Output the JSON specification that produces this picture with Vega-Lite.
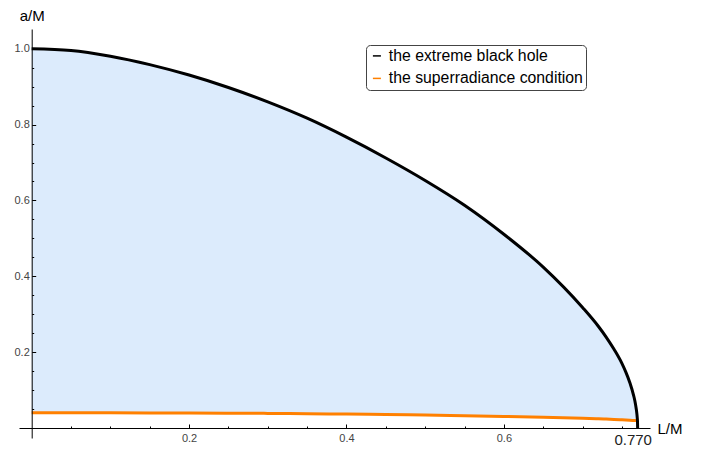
{
  "$schema": "https://vega.github.io/schema/vega-lite/v6.json",
  "width": 631,
  "height": 409,
  "autosize": "none",
  "padding": {"left": 19, "top": 29, "right": 57, "bottom": 12},
  "background": "white",
  "view": {"stroke": null},
  "config": {"font": "Liberation Sans"},
  "data": {
    "values": [
      {"L": 0.0, "extreme": 1.0, "superradiance": 0.0400},
      {"L": 0.05, "extreme": 0.9955, "superradiance": 0.0400},
      {"L": 0.10, "extreme": 0.9803, "superradiance": 0.0399},
      {"L": 0.15, "extreme": 0.9581, "superradiance": 0.0397},
      {"L": 0.20, "extreme": 0.9306, "superradiance": 0.0395},
      {"L": 0.25, "extreme": 0.8978, "superradiance": 0.0391},
      {"L": 0.30, "extreme": 0.8597, "superradiance": 0.0385},
      {"L": 0.35, "extreme": 0.8167, "superradiance": 0.0377},
      {"L": 0.40, "extreme": 0.7668, "superradiance": 0.0367},
      {"L": 0.45, "extreme": 0.7120, "superradiance": 0.0355},
      {"L": 0.50, "extreme": 0.6527, "superradiance": 0.0341},
      {"L": 0.55, "extreme": 0.5874, "superradiance": 0.0325},
      {"L": 0.60, "extreme": 0.5109, "superradiance": 0.0306},
      {"L": 0.65, "extreme": 0.4243, "superradiance": 0.0284},
      {"L": 0.70, "extreme": 0.3178, "superradiance": 0.0256},
      {"L": 0.72, "extreme": 0.2683, "superradiance": 0.0242},
      {"L": 0.73, "extreme": 0.2398, "superradiance": 0.0234},
      {"L": 0.74, "extreme": 0.2074, "superradiance": 0.0225},
      {"L": 0.75, "extreme": 0.1703, "superradiance": 0.0216},
      {"L": 0.755, "extreme": 0.1473, "superradiance": 0.0211},
      {"L": 0.76, "extreme": 0.1200, "superradiance": 0.0205},
      {"L": 0.765, "extreme": 0.0849, "superradiance": 0.0198},
      {"L": 0.7665, "extreme": 0.0712, "superradiance": 0.0196},
      {"L": 0.768, "extreme": 0.0535, "superradiance": 0.0194},
      {"L": 0.769, "extreme": 0.0381, "superradiance": 0.0192},
      {"L": 0.7695, "extreme": 0.0267, "superradiance": 0.0191},
      {"L": 0.7698, "extreme": 0.0170, "superradiance": 0.0190},
      {"L": 0.77, "extreme": 0.0, "superradiance": 0.0190}
    ]
  },
  "encoding": {
    "x": {
      "field": "L", "type": "quantitative",
      "scale": {"domain": [-0.0161, 0.7857], "nice": false, "zero": false},
      "axis": {
        "orient": "bottom",
        "offset": -10,
        "zindex": 1,
        "grid": false,
        "domainColor": "black",
        "domainWidth": 1,
        "tickColor": "black",
        "values": [0.05, 0.1, 0.15, 0.2, 0.25, 0.3, 0.35, 0.4, 0.45, 0.5, 0.55, 0.6, 0.65, 0.7, 0.75, 0.77],
        "tickSize": {"condition": {"test": "datum.value == 0.2 || datum.value == 0.4 || datum.value == 0.6 || datum.value == 0.77", "value": -4}, "value": -2},
        "labelExpr": "datum.value == 0.77 ? '0.770' : ((datum.value == 0.2 || datum.value == 0.4 || datum.value == 0.6) ? format(datum.value, '.1f') : '')",
        "labelFontSize": {"condition": {"test": "datum.value == 0.77", "value": 15}, "value": 11},
        "labelColor": {"condition": {"test": "datum.value == 0.77", "value": "#222222"}, "value": "#444444"},
        "labelOffset": {"condition": {"test": "datum.value == 0.77", "value": -5}, "value": 0},
        "labelPadding": 8,
        "labelBaseline": "top",
        "labelOverlap": false,
        "labelFlush": false,
        "title": "L/M",
        "titleFontSize": 15,
        "titleFontWeight": "normal",
        "titleColor": "black",
        "titleAngle": 0,
        "titleAlign": "left",
        "titleBaseline": "alphabetic",
        "titleX": 638,
        "titleY": 5
      }
    },
    "y": {
      "field": "superradiance", "type": "quantitative",
      "scale": {"domain": [-0.0264, 1.052], "nice": false, "zero": false},
      "axis": {
        "orient": "left",
        "offset": -12.7,
        "zindex": 1,
        "grid": false,
        "domainColor": "black",
        "domainWidth": 1,
        "tickColor": "black",
        "values": [0.05, 0.1, 0.15, 0.2, 0.25, 0.3, 0.35, 0.4, 0.45, 0.5, 0.55, 0.6, 0.65, 0.7, 0.75, 0.8, 0.85, 0.9, 0.95, 1.0],
        "tickSize": {"condition": {"test": "datum.value == 0.2 || datum.value == 0.4 || datum.value == 0.6 || datum.value == 0.8 || datum.value == 1.0", "value": -4}, "value": -2},
        "labelExpr": "(datum.value == 0.2 || datum.value == 0.4 || datum.value == 0.6 || datum.value == 0.8 || datum.value == 1.0) ? format(datum.value, '.1f') : ''",
        "labelFontSize": 11,
        "labelColor": "#444444",
        "labelPadding": 6.4,
        "labelBaseline": "middle",
        "labelOverlap": false,
        "labelFlush": false,
        "title": "a/M",
        "titleFontSize": 15,
        "titleFontWeight": "normal",
        "titleColor": "black",
        "titleAngle": 0,
        "titleAlign": "center",
        "titleBaseline": "alphabetic",
        "titleX": 0,
        "titleY": -8.3
      }
    }
  },
  "layer": [
    {
      "mark": {"type": "area", "color": "#DCEBFC", "opacity": 1, "interpolate": "monotone"},
      "encoding": {
        "y2": {"field": "extreme"}
      }
    },
    {
      "mark": {"type": "line", "strokeWidth": 3, "strokeCap": "butt", "interpolate": "monotone"},
      "encoding": {
        "color": {"datum": "superradiance"}
      }
    },
    {
      "mark": {"type": "line", "strokeWidth": 3, "strokeCap": "butt", "interpolate": "monotone"},
      "encoding": {
        "y": {"field": "extreme", "type": "quantitative"},
        "color": {
          "datum": "extreme",
          "scale": {"domain": ["extreme", "superradiance"], "range": ["#000000", "#FF8000"]},
          "legend": {
            "title": null,
            "orient": "none",
            "legendX": 347,
            "legendY": 16,
            "symbolType": "stroke",
            "symbolSize": 64,
            "symbolStrokeWidth": 1.5,
            "labelFontSize": 15.8,
            "labelColor": "black",
            "labelOffset": 4,
            "labelLimit": 400,
            "rowPadding": 5.5,
            "padding": 3,
            "strokeColor": "#444444",
            "fillColor": "white",
            "cornerRadius": 4,
            "labelExpr": "datum.label == 'extreme' ? 'the extreme black hole' : 'the superradiance condition'"
          }
        }
      }
    }
  ]
}
